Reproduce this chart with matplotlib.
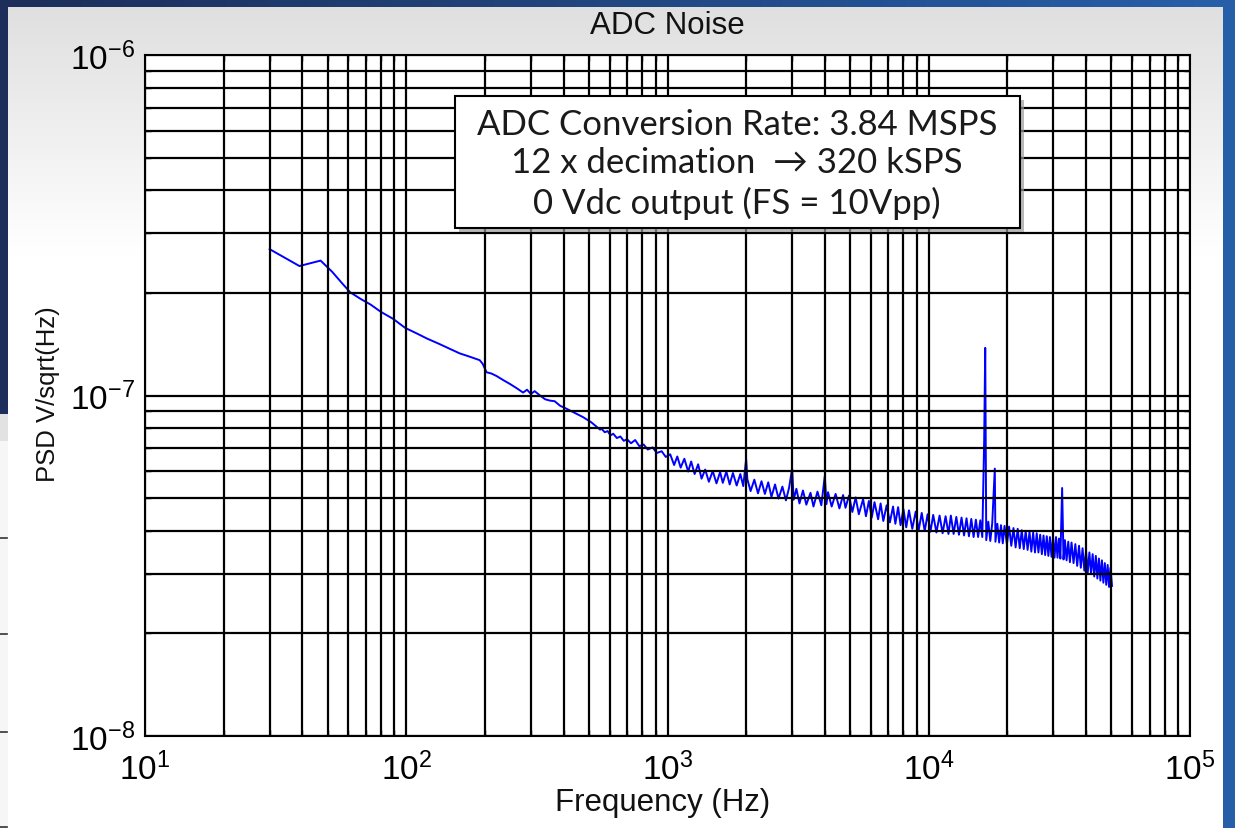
import numpy as np
import matplotlib
matplotlib.use("Agg")
import matplotlib.pyplot as plt
from matplotlib.patches import Rectangle

plt.rcParams['font.family'] = ['Liberation Sans', 'DejaVu Sans']
plt.rcParams['mathtext.fontset'] = 'custom'
plt.rcParams['mathtext.rm'] = 'Liberation Sans'
plt.rcParams['mathtext.default'] = 'regular'
plt.rcParams['axes.unicode_minus'] = False

# PSD, values in units of 1e-8 V/sqrt(Hz)
low_freq = [30, 39, 47, 52, 57, 61, 67, 73, 80, 89, 99, 110, 120, 133, 147, 160, 175, 191, 196, 203,
            212, 222, 235, 250, 265, 280, 290, 300, 310, 325, 340, 355, 370, 388, 410, 440, 475, 510, 552]
low_psd = [26.9, 24.0, 24.9, 23.1, 21.3, 20.1, 19.2, 18.5, 17.6, 16.8, 15.8, 15.2, 14.7, 14.2, 13.7, 13.3,
           13.0, 12.7, 12.4, 11.7, 11.6, 11.4, 11.1, 10.8, 10.5, 10.2, 10.4, 10.1, 10.3, 10.0, 9.75, 9.66,
           9.62, 9.33, 9.15, 8.9, 8.64, 8.35, 7.94]

mid_freq = [560, 575, 590, 605, 620, 640, 660, 680, 700, 725, 752, 780, 810, 840, 877, 910, 950, 985,
            1024, 1060, 1090, 1123, 1160, 1200, 1232, 1270, 1310, 1350, 1394, 1440, 1490, 1540, 1590,
            1628, 1680, 1730, 1780, 1840, 1900, 1950, 2021, 2080, 2150, 2220, 2290, 2359, 2430, 2500,
            2580, 2660, 2753, 2840, 2920, 3040, 3114, 3200, 3300, 3400, 3527, 3620, 3750, 3880, 4060,
            4116, 4250, 4400, 4550, 4700, 4801, 4950]
mid_psd = [7.98, 7.80, 7.86, 7.64, 7.72, 7.50, 7.58, 7.36, 7.44, 7.24, 7.40, 7.10, 7.18, 6.94, 7.04,
           6.78, 6.86, 6.60, 6.72, 6.25, 6.62, 6.14, 6.52, 5.98, 6.40, 5.88, 6.28, 5.70, 6.06, 5.58,
           6.00, 5.52, 5.96, 5.54, 5.98, 5.48, 5.92, 5.44, 5.88, 5.42, 5.68, 5.24, 5.66, 5.16, 5.60,
           5.14, 5.56, 5.04, 5.48, 4.98, 5.40, 4.92, 5.36, 4.94, 5.32, 4.82, 5.26, 4.78, 5.18, 4.72,
           5.22, 4.76, 4.80, 5.20, 4.72, 5.14, 4.66, 5.10, 4.68, 5.08]

high_freq = [5100, 5250, 5400, 5607, 5750, 5900, 6050, 6200, 6400, 6542, 6700, 6900, 7100, 7300, 7450,
             7633, 7800, 8000, 8200, 8400, 8650, 8913, 9150, 9400, 9650, 9900, 10150, 10400, 10700,
             11000, 11300, 11600, 11900, 12150, 12450, 12750, 13050, 13350, 13650, 13950, 14250,
             14550, 14850, 15150, 15450, 15750, 16030, 16600, 16900, 17200, 17500, 18000, 18300,
             18600, 18900, 19200, 19500, 19920, 20300, 20700, 21100, 21500, 21900, 22300, 22700,
             23100, 23500, 23900, 24300, 24700, 25100, 25500, 25900, 26290, 26700, 27100, 27500,
             27900, 28300, 28700, 29100, 29500, 29900, 30300, 30700, 31100, 31500, 31900, 32800,
             33200, 33700, 34200, 34700, 35200, 35830, 36400, 37000, 37600, 38200, 38800, 39400,
             40000, 40600, 41200, 41800, 42400, 43000, 43600, 44200, 44800, 45400, 46000, 46600,
             47200, 47800, 48400, 49000, 49600, 50290]
high_psd = [4.55, 5.02, 4.48, 4.96, 4.42, 4.90, 4.38, 4.86, 4.33, 4.82, 4.28, 4.76, 4.24, 4.72, 4.20,
            4.70, 4.16, 4.64, 4.10, 4.60, 4.06, 4.56, 4.02, 4.52, 4.00, 4.48, 3.98, 4.46, 3.96, 4.44,
            3.94, 4.42, 3.92, 4.44, 3.92, 4.40, 3.90, 4.38, 3.88, 4.36, 3.86, 4.34, 3.84, 4.32, 3.84,
            4.30, 3.84, 3.76, 4.26, 3.74, 4.22, 3.72, 4.20, 3.70, 4.16, 3.68, 4.14, 3.66, 4.12, 3.62,
            4.08, 3.58, 4.06, 3.56, 4.02, 3.54, 4.00, 3.52, 3.98, 3.48, 3.96, 3.46, 3.94, 3.46, 3.90,
            3.42, 3.88, 3.40, 3.86, 3.38, 3.84, 3.36, 3.82, 3.34, 3.84, 3.34, 3.80, 3.32, 3.30, 3.76,
            3.28, 3.72, 3.24, 3.70, 3.22, 3.66, 3.16, 3.62, 3.12, 3.56, 3.06, 3.50, 3.02, 3.46, 3.00,
            3.42, 2.94, 3.38, 2.90, 3.32, 2.86, 3.28, 2.82, 3.22, 2.78, 3.18, 2.74, 3.12, 2.76]

# spurs / tones
spur_freq = [2000, 3000, 4000, 16300, 16450, 17900, 32400]
spur_psd = [6.5, 6.1, 5.8, 7.4, 13.8, 6.1, 5.35]

box_lines = ["ADC Conversion Rate: 3.84 MSPS",
             "12 x decimation  \u2192 320 kSPS",
             "0 Vdc output (FS = 10Vpp)"]

freq = np.array(low_freq + mid_freq + high_freq + spur_freq, dtype=float)
psd = np.array(low_psd + mid_psd + high_psd + spur_psd) * 1e-8
order = np.argsort(freq)
freq, psd = freq[order], psd[order]

W, H = 1235, 829
fig = plt.figure(figsize=(W / 100, H / 100), dpi=100)

# slide background: blue frame + light panel (pixel coordinates)
bg = fig.add_axes([0, 0, 1, 1], zorder=-10)
bg.axis("off")
c0 = np.array([0.11, 0.18, 0.35])
c1 = np.array([0.15, 0.37, 0.66])
nstep = 60
for i in range(nstep):
    t = i / (nstep - 1)
    bg.add_patch(Rectangle((i * W / nstep, 0), W / nstep + 1, H,
                           color=tuple(c0 * (1 - t) + c1 * t), lw=0))
for i in range(nstep):
    t = i / (nstep - 1)
    g = 0.875 + 0.125 * t
    bg.add_patch(Rectangle((8, 8 + i * 252 / nstep), 1215, 252 / nstep + 1,
                           color=(g, g, g), lw=0))
bg.add_patch(Rectangle((8, 260), 1215, H - 260, color="white", lw=0))
bg.add_patch(Rectangle((0, 415), 8, 27, color="#e2e2e2", lw=0))
bg.add_patch(Rectangle((0, 442), 8, H - 442, color="#f6f6f6", lw=0))
for ty in [539, 635, 733, 828]:
    bg.plot([0, 7], [ty, ty], color="#333333", lw=1.2)
bg.set_xlim(0, W)
bg.set_ylim(H, 0)

ax = fig.add_axes([145 / W, 1 - 737 / H, 1045 / W, 681 / H])
ax.set_facecolor("white")
ax.plot(freq, psd, color="#0000ff", lw=1.4, zorder=1)
ax.set_xscale("log")
ax.set_yscale("log")
ax.set_xlim(10, 1e5)
ax.set_ylim(1e-8, 1e-6)

ax.set_axisbelow(False)
ax.grid(True, which="both", color="black", lw=1.6, ls="-")
for s in ax.spines.values():
    s.set_linewidth(1.5)
    s.set_color("black")
ax.tick_params(which="both", direction="in", top=True, right=True, colors="black")
ax.tick_params(which="major", length=7, width=1.2, labelsize=24)
ax.tick_params(which="minor", length=4, width=1.0)
ax.tick_params(axis="x", which="major", pad=11)
ax.tick_params(axis="y", which="major", pad=7)
ax.tick_params(axis="x", which="minor", labelbottom=False)
ax.tick_params(axis="y", which="minor", labelleft=False)

ax.set_title("ADC Noise", fontsize=22.5, color="#111111", y=(737 - 26) / 681, va="center", pad=0)
ax.set_xlabel("Frequency (Hz)", fontsize=22.5, color="#111111", va="center")
ax.xaxis.set_label_coords((663 - 145) / 1045, (737 - 803) / 681)
ax.set_ylabel("PSD V/sqrt(Hz)", fontsize=18.5, color="#111111", va="center")
ax.yaxis.set_label_coords((48 - 145) / 1045, (737 - 394) / 681)

# annotation box with drop shadow
bx0, bx1 = (455 - 145) / 1045, (1020 - 145) / 1045
by0, by1 = (737 - 229) / 681, (737 - 97) / 681
dx, dy = 4 / 1045, 4 / 681
ax.add_patch(Rectangle((bx0 + dx, by0 - dy), bx1 - bx0, by1 - by0, transform=ax.transAxes,
                       facecolor="#9a9a9a", edgecolor="none", zorder=5, alpha=0.7))
ax.add_patch(Rectangle((bx0, by0), bx1 - bx0, by1 - by0, transform=ax.transAxes,
                       facecolor="white", edgecolor="black", lw=1.5, zorder=6))
for line, yp in zip(box_lines, [125, 163, 203]):
    ax.text((737 - 145) / 1045, (737 - yp) / 681, line, transform=ax.transAxes,
            ha="center", va="center", fontsize=25, color="#1a1a1a", zorder=7,
            family=["Lato", "DejaVu Sans"])

fig.savefig("out.png", dpi=100)
